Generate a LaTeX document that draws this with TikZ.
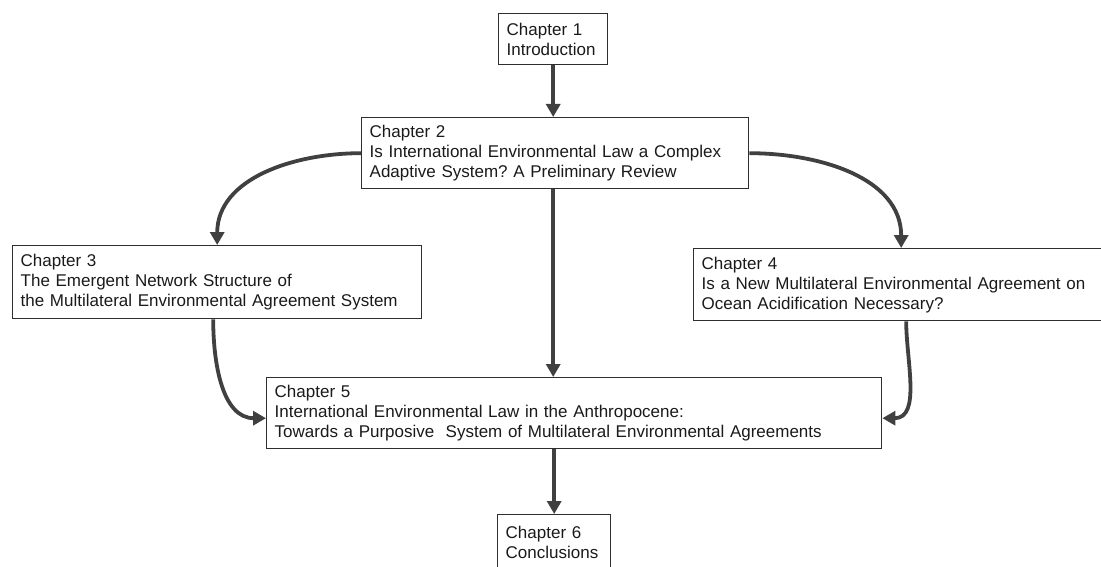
\documentclass[tikz,border=0pt]{standalone}
\usepackage{fontspec}
\setmainfont{Liberation Sans}
\usepackage{xcolor}
\usepackage{tikz}
\usetikzlibrary{arrows.meta,positioning,calc}
\definecolor{chapink}{HTML}{1A1A1A}
\definecolor{chapline}{HTML}{2E2E2E}
\definecolor{chaparrow}{HTML}{404040}
\frenchspacing

\begin{document}
\begin{tikzpicture}[x=1pt,y=-1pt,
    chapbox/.style = {draw=chapline,line width=1.4pt,anchor=north west,align=left,
                      inner xsep=8pt,inner ysep=2pt,text=chapink,
                      font=\fontsize{17}{20}\selectfont},
    flow/.style    = {-{Triangle[length=13pt,width=14pt]},line width=3.8pt,draw=chaparrow},
  ]

  % ── Cadre ─────────────────────────────────────────────────────────────────
  \useasboundingbox (0,0) rectangle (1101,567);
  \clip (0,0) rectangle (1101,567);

  % ── Chapitres ─────────────────────────────────────────────────────────────
  \node[chapbox,text width=93pt,minimum height=51pt]  (ch1) at (498,13)
       {Chapter 1\\Introduction};
  \node[chapbox,text width=371pt,minimum height=71pt] (ch2) at (361,117)
       {Chapter 2\\Is International Environmental Law a Complex\\Adaptive System? A Preliminary Review};
  \node[chapbox,text width=393pt,minimum height=73pt] (ch3) at (12,245)
       {Chapter 3\\The Emergent Network Structure of\\the Multilateral Environmental Agreement System};
  \node[chapbox,text width=399pt,minimum height=72pt] (ch4) at (693,248)
       {Chapter 4\\Is a New Multilateral Environmental Agreement on\\Ocean Acidification Necessary?};
  \node[chapbox,text width=599pt,minimum height=71pt] (ch5) at (266,377)
       {Chapter 5\\International Environmental Law in the Anthropocene:\\Towards a Purposive~ System of Multilateral Environmental Agreements};
  \node[chapbox,text width=97pt,minimum height=56pt]  (ch6) at (497,514)
       {Chapter 6\\Conclusions};

  % ── Liens ─────────────────────────────────────────────────────────────────
  \draw[flow] (ch1.south) -- (ch1.south |- ch2.north);
  \draw[flow] (ch2.west) to[out=180,in=90] (ch3.north);
  \draw[flow] (ch2.east) to[out=0,in=90] (ch4.north);
  \draw[flow] (ch1.south |- ch2.south) -- (ch1.south |- ch5.north);
  \draw[flow] ([xshift=-4pt]ch3.south) to[out=-90,in=180] ([yshift=-5pt]ch5.west);
  \draw[flow] ([xshift=5pt]ch4.south) to[out=-90,in=0] ([yshift=-5pt]ch5.east);
  \draw[flow] (ch6.north |- ch5.south) -- (ch6.north);

\end{tikzpicture}
\end{document}
